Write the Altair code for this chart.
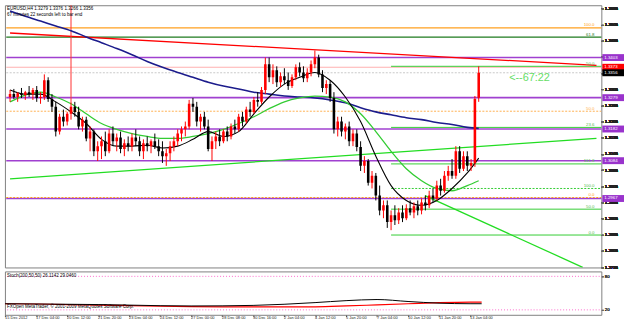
import altair as alt
import pandas as pd

FONT = "Liberation Sans"

header_line1 = "EURUSD,H4  1.3279 1.3376 1.3266 1.3356"
header_line2 = "67 minutes 22 seconds left to bar end"
countdown_text = "<--67:22"
stoch_title = "Stoch(200,50,50) 26.1142 29.0460"
copyright_text = "FXOpen MetaTrader, \u00a9 2001-2009 MetaQuotes Software Corp."

opens = [1.3281,1.3290,1.3281,1.3293,1.3287,1.3296,1.3290,1.3303,1.3278,1.3281,
         1.3333,1.3275,1.3251,1.3174,1.3220,1.3205,1.3229,1.3251,1.3235,1.3190,
         1.3211,1.3153,1.3174,1.3113,1.3129,1.3144,1.3113,1.3168,1.3144,1.3156,
         1.3120,1.3138,1.3129,1.3156,1.3144,1.3113,1.3138,1.3129,1.3144,1.3129,
         1.3113,1.3098,1.3107,1.3129,1.3144,1.3168,1.3181,1.3190,1.3260,1.3251,
         1.3205,1.3220,1.3190,1.3120,1.3144,1.3159,1.3144,1.3174,1.3159,1.3190,
         1.3181,1.3220,1.3205,1.3242,1.3235,1.3272,1.3266,1.3303,1.3382,1.3342,
         1.3364,1.3327,1.3345,1.3333,1.3315,1.3342,1.3373,1.3357,1.3339,1.3357,
         1.3382,1.3403,1.3351,1.3309,1.3321,1.3278,1.3181,1.3205,1.3174,1.3190,
         1.3144,1.3168,1.3126,1.3068,1.3083,1.3016,1.3037,1.2976,1.2930,1.2946,
         1.2894,1.2915,1.2900,1.2924,1.2906,1.2937,1.2924,1.2943,1.2930,1.2955,
         1.2946,1.2976,1.2967,1.3007,1.2991,1.3037,1.3052,1.3037,1.3113,1.3059,
         1.3098,1.3068,1.3077,1.3279]
highs = [1.3303,1.3306,1.3296,1.3309,1.3300,1.3315,1.3309,1.3315,1.3296,1.3351,
         1.3342,1.3290,1.3266,1.3229,1.3242,1.3235,1.3266,1.3266,1.3251,1.3220,
         1.3220,1.3190,1.3181,1.3144,1.3159,1.3174,1.3181,1.3190,1.3168,1.3174,
         1.3150,1.3159,1.3168,1.3181,1.3159,1.3150,1.3159,1.3150,1.3168,1.3150,
         1.3144,1.3120,1.3144,1.3159,1.3181,1.3190,1.3205,1.3272,1.3278,1.3266,
         1.3229,1.3235,1.3211,1.3159,1.3174,1.3181,1.3181,1.3190,1.3199,1.3211,
         1.3229,1.3235,1.3251,1.3266,1.3281,1.3296,1.3312,1.3403,1.3403,1.3382,
         1.3376,1.3357,1.3370,1.3357,1.3351,1.3382,1.3388,1.3376,1.3370,1.3394,
         1.3425,1.3412,1.3364,1.3333,1.3333,1.3296,1.3220,1.3220,1.3199,1.3205,
         1.3181,1.3181,1.3144,1.3098,1.3089,1.3052,1.3046,1.3007,1.2961,1.2961,
         1.2930,1.2946,1.2937,1.2946,1.2949,1.2961,1.2955,1.2961,1.2967,1.2976,
         1.2991,1.2998,1.3022,1.3028,1.3052,1.3068,1.3089,1.3129,1.3129,1.3113,
         1.3113,1.3089,1.3284,1.3376]
lows = [1.3266,1.3275,1.3266,1.3278,1.3272,1.3281,1.3272,1.3266,1.3260,1.3272,
        1.3266,1.3235,1.3159,1.3165,1.3190,1.3193,1.3211,1.3220,1.3181,1.3174,
        1.3144,1.3113,1.3098,1.3083,1.3089,1.3098,1.3107,1.3129,1.3113,1.3107,
        1.3098,1.3113,1.3113,1.3129,1.3098,1.3089,1.3113,1.3107,1.3120,1.3098,
        1.3077,1.3068,1.3083,1.3113,1.3129,1.3144,1.3159,1.3181,1.3235,1.3190,
        1.3174,1.3181,1.3113,1.3083,1.3120,1.3129,1.3138,1.3144,1.3150,1.3168,
        1.3174,1.3190,1.3199,1.3220,1.3229,1.3251,1.3260,1.3290,1.3327,1.3321,
        1.3312,1.3312,1.3321,1.3303,1.3309,1.3333,1.3345,1.3327,1.3327,1.3345,
        1.3370,1.3342,1.3296,1.3290,1.3266,1.3168,1.3159,1.3159,1.3150,1.3129,
        1.3129,1.3113,1.3052,1.3046,1.3007,1.2998,1.2961,1.2915,1.2906,1.2876,
        1.2869,1.2885,1.2888,1.2894,1.2900,1.2915,1.2906,1.2915,1.2918,1.2930,
        1.2937,1.2955,1.2961,1.2976,1.2985,1.3022,1.3028,1.3028,1.3046,1.3052,
        1.3052,1.3052,1.3065,1.3266]
closes = [1.3290,1.3281,1.3293,1.3287,1.3296,1.3290,1.3303,1.3278,1.3281,1.3333,
          1.3275,1.3251,1.3174,1.3220,1.3205,1.3229,1.3251,1.3235,1.3190,1.3211,
          1.3153,1.3174,1.3113,1.3129,1.3144,1.3113,1.3168,1.3144,1.3156,1.3120,
          1.3138,1.3129,1.3156,1.3144,1.3113,1.3138,1.3129,1.3144,1.3129,1.3113,
          1.3098,1.3107,1.3129,1.3144,1.3168,1.3181,1.3190,1.3260,1.3251,1.3205,
          1.3220,1.3190,1.3120,1.3144,1.3159,1.3144,1.3174,1.3159,1.3190,1.3181,
          1.3220,1.3205,1.3242,1.3235,1.3272,1.3266,1.3303,1.3382,1.3342,1.3364,
          1.3327,1.3345,1.3333,1.3315,1.3342,1.3373,1.3357,1.3339,1.3357,1.3382,
          1.3403,1.3351,1.3309,1.3321,1.3278,1.3181,1.3205,1.3174,1.3190,1.3144,
          1.3168,1.3126,1.3068,1.3083,1.3016,1.3037,1.2976,1.2930,1.2946,1.2894,
          1.2915,1.2900,1.2924,1.2906,1.2937,1.2924,1.2943,1.2930,1.2955,1.2946,
          1.2976,1.2967,1.3007,1.2991,1.3037,1.3052,1.3037,1.3113,1.3059,1.3098,
          1.3068,1.3077,1.3275,1.3356]

ma_bars = [0,4,8,12,16,20,24,28,32,36,40,44,48,52,56,60,64,68,72,76,80,84,88,92,96,100,104,108,112,116,120,123]
ma_blue = [1.3547,1.3531,1.3516,1.3501,1.3486,1.3467,1.3449,1.3431,1.3412,1.3391,1.3373,1.3357,
           1.3342,1.3327,1.3315,1.3306,1.3296,1.3290,1.3284,1.3281,1.3278,1.3272,1.3263,1.3248,
           1.3235,1.3226,1.3217,1.3211,1.3202,1.3196,1.3187,1.3184]
ma_green = [1.3266,1.3287,1.3296,1.3281,1.3260,1.3229,1.3199,1.3181,1.3168,1.3159,1.3153,1.3153,
            1.3159,1.3168,1.3181,1.3199,1.3220,1.3245,1.3266,1.3278,1.3284,1.3281,1.3266,1.3229,
            1.3174,1.3113,1.3059,1.3022,1.2998,1.2991,1.3007,1.3022]
ma_black = [1.3303,1.3290,1.3290,1.3266,1.3235,1.3199,1.3150,1.3129,1.3129,1.3132,1.3123,1.3129,
            1.3150,1.3174,1.3159,1.3174,1.3229,1.3281,1.3321,1.3342,1.3357,1.3333,1.3281,1.3205,
            1.3098,1.3007,1.2961,1.2946,1.2961,1.2998,1.3046,1.3092]

stoch_bars = [0,8,16,24,32,40,48,56,64,72,80,88,96,104,112,120,123]
stoch_main = [31,30.5,30,29.5,28.5,27.5,27,27.2,28,30,33,36.5,38.5,35,32,31,31]
stoch_signal = [31,30.5,29.5,28.5,27.5,26.5,25.8,25.3,25.3,25.3,25.5,27,29,31,33,34,34]
stoch_levels = [80, 20]

time_bars = [0,8,16,24,32,40,48,56,64,72,80,88,96,104,112,120]
time_labels = ["15 Dec 2012","17 Dec 04:00","20 Dec 12:00","21 Dec 20:00","23 Dec 04:00",
               "24 Dec 12:00","27 Dec 00:00","28 Dec 08:00","30 Dec 16:00","2 Jan 04:00",
               "4 Jan 12:00","5 Jan 20:00","7 Jan 04:00","10 Jan 12:00","11 Jan 20:00","13 Jan 04:00"]

price_ticks = [1.2755,1.2805,1.2855,1.2905,1.2955,1.3005,1.3055,1.3105,1.3155,
               1.3205,1.3255,1.3305,1.3355,1.3405,1.3455,1.3505,1.3555]

purple_levels = [1.3403, 1.3279, 1.3182, 1.3084, 1.2967]

wide_prices = [1.3495, 1.3466, 1.3373]
wide_colors = ["#FFA020", "#1E7B1E", "#FFB0B0"]
wide_labels = ["100.0", "61.8", ""]
dotted_prices = [1.3237, 1.2970, 1.3356]
dotted_colors = ["#FFB050", "#FFA020", "#C8C8C8"]
dotted_labels = ["50.0", "0.0", ""]
gfib_start = 100
gfib_prices = [1.3376, 1.3187, 1.3074, 1.2998, 1.2934, 1.2854]
gfib_labels = ["50.0", "23.6", "161.8", "100.0", "50.0", "0.0"]
gfib_dash = [0, 0, 0, 1, 0, 0]

tl_names = ["red", "green_up", "green_down"]
tl_x1 = [0, 0, 108.9]
tl_p1 = [1.3479, 1.3028, 1.2976]
tl_x2 = [153.9, 153.9, 150.3]
tl_p2 = [1.3379, 1.3153, 1.2754]
tl_colors = ["#FF0000", "#22DD22", "#22DD22"]

vline_bar = 16
vline_top = 1.3566
vline_bottom = 1.3266

countdown_bar = 131
countdown_price = 1.3339

box_prices = purple_levels + [1.3373, 1.3356]
box_colors = ["#9933CC"] * 5 + ["#FF0000", "#000000"]
box_texts = ["%.4f" % p for p in box_prices]

# ---------------------------------------------------------------
W = 605
H_MAIN = 266
H_STOCH = 44
xs = alt.Scale(domain=[-0.05, 153.89], nice=False, zero=False)
ps = alt.Scale(domain=[1.27536, 1.35649], nice=False, zero=False)
p_axis = alt.Axis(orient="right", values=price_ticks, format=".4f", labelFontSize=4.4,
                  labelFont=FONT, tickSize=2, labelPadding=1, grid=False, title=None,
                  domain=False, tickColor="#666666", labelColor="#222222",
                  labelOverlap=False, labelFlush=False)

def X(field="bar"):
    return alt.X(f"{field}:Q", scale=xs, axis=None)

def Y(field):
    return alt.Y(f"{field}:Q", scale=ps, axis=p_axis)

candles = pd.DataFrame({"bar": list(range(len(closes))), "open": opens, "high": highs,
                        "low": lows, "close": closes})
candles["col"] = ["#FF0000" if c >= o else "#000000" for o, c in zip(opens, closes)]

wicks = alt.Chart(candles).mark_rule(strokeWidth=1, clip=True).encode(
    x=X(), y=Y("low"), y2="high", color=alt.Color("col:N", scale=None))
bodies = alt.Chart(candles).mark_bar(size=2.6, clip=True).encode(
    x=X(), y=Y("open"), y2="close", color=alt.Color("col:N", scale=None))

ma = pd.DataFrame({"bar": ma_bars, "blue": ma_blue, "green": ma_green, "black": ma_black})
ma_blue_l = alt.Chart(ma).mark_line(color="#1C1C8C", strokeWidth=1.6, interpolate="monotone", clip=True).encode(x=X(), y=Y("blue"))
ma_green_l = alt.Chart(ma).mark_line(color="#33CC33", strokeWidth=1.3, interpolate="monotone", clip=True).encode(x=X(), y=Y("green"))
ma_black_l = alt.Chart(ma).mark_line(color="#000000", strokeWidth=1.1, interpolate="monotone", clip=True).encode(x=X(), y=Y("black"))

lv_df = pd.DataFrame({"price": purple_levels, "x1": [-1] * 5, "x2": [160] * 5})
purple = alt.Chart(lv_df).mark_rule(color="#A040D0", strokeWidth=1.6, clip=True).encode(
    x=X("x1"), x2="x2", y=Y("price"))

wide_df = pd.DataFrame({"price": wide_prices, "col": wide_colors, "lab": wide_labels,
                        "x1": [-1] * 3, "x2": [160] * 3, "xl": [153.4] * 3})
wide = alt.Chart(wide_df).mark_rule(strokeWidth=1.2, clip=True).encode(
    x=X("x1"), x2="x2", y=Y("price"), color=alt.Color("col:N", scale=None))
wide_t = alt.Chart(wide_df).mark_text(align="right", baseline="bottom", dy=-0.5, fontSize=4.4, font=FONT).encode(
    x=X("xl"), y=Y("price"), text="lab:N", color=alt.Color("col:N", scale=None))

dot_df = pd.DataFrame({"price": dotted_prices, "col": dotted_colors, "lab": dotted_labels,
                       "x1": [-1] * 3, "x2": [160] * 3, "xl": [153.4] * 3})
dots = alt.Chart(dot_df).mark_rule(strokeWidth=1, strokeDash=[2, 1.5], clip=True).encode(
    x=X("x1"), x2="x2", y=Y("price"), color=alt.Color("col:N", scale=None))
dots_t = alt.Chart(dot_df).mark_text(align="right", baseline="bottom", dy=-0.5, fontSize=4.4, font=FONT).encode(
    x=X("xl"), y=Y("price"), text="lab:N", color=alt.Color("col:N", scale=None))

g_df = pd.DataFrame({"price": gfib_prices, "lab": gfib_labels, "dash": gfib_dash,
                     "x1": [gfib_start] * 6, "x2": [160] * 6, "xl": [153.4] * 6})
gfib_solid = alt.Chart(g_df[g_df.dash == 0]).mark_rule(color="#33CC33", strokeWidth=1, clip=True).encode(
    x=X("x1"), x2="x2", y=Y("price"))
gfib_dot = alt.Chart(g_df[g_df.dash == 1]).mark_rule(color="#33CC33", strokeWidth=1, strokeDash=[2, 1.5], clip=True).encode(
    x=X("x1"), x2="x2", y=Y("price"))
gfib_t = alt.Chart(g_df).mark_text(align="right", baseline="bottom", dy=-0.5, fontSize=4.4, font=FONT, color="#55BB55").encode(
    x=X("xl"), y=Y("price"), text="lab:N")

tl_df = pd.DataFrame({"name": tl_names, "x1": tl_x1, "p1": tl_p1, "x2": tl_x2, "p2": tl_p2, "col": tl_colors})
trend = alt.Chart(tl_df).mark_rule(strokeWidth=1.3, clip=True).encode(
    x=X("x1"), x2="x2", y=Y("p1"), y2="p2", color=alt.Color("col:N", scale=None))

vl_df = pd.DataFrame({"bar": [vline_bar], "top": [vline_top], "bottom": [vline_bottom]})
vline = alt.Chart(vl_df).mark_rule(color="#FF3030", strokeWidth=1, clip=True).encode(
    x=X(), y=Y("bottom"), y2="top")

cd_df = pd.DataFrame({"bar": [countdown_bar], "price": [countdown_price], "t": [countdown_text]})
cd = alt.Chart(cd_df).mark_text(align="left", baseline="middle", fontSize=11, font=FONT, color="#66DD66").encode(
    x=X(), y=Y("price"), text="t:N")

box_df = pd.DataFrame({"price": box_prices, "col": box_colors, "t": box_texts})
boxes = alt.Chart(box_df).mark_tick(orient="horizontal", size=22, thickness=7, clip=False, opacity=1).encode(
    x=alt.value(617), y=Y("price"), color=alt.Color("col:N", scale=None))
boxes_t = alt.Chart(box_df).mark_text(align="left", baseline="middle", fontSize=4.4, font=FONT, color="white", clip=False).encode(
    x=alt.value(608), y=Y("price"), text="t:N")

hdr_df = pd.DataFrame({"t": [header_line1, header_line2], "row": [0, 1]})
hdr = alt.Chart(hdr_df).mark_text(align="left", baseline="middle", fontSize=4.6, font=FONT, color="#000000").encode(
    x=alt.value(2), y=alt.Y("row:O", scale=alt.Scale(range=[4, 9.5], padding=0), axis=None), text="t:N")

main = alt.layer(purple, wide, dots, gfib_solid, gfib_dot, trend, vline,
                 ma_blue_l, ma_green_l, ma_black_l, wicks, bodies,
                 wide_t, dots_t, gfib_t, cd, boxes, boxes_t, hdr).resolve_scale(y="shared").properties(
    width=W, height=H_MAIN)

# ---------------- stochastic pane ----------------
ss = alt.Scale(domain=[11.18, 88.82], nice=False, zero=False)
s_axis = alt.Axis(orient="right", values=stoch_levels, format="d", labelFontSize=4.4, labelFont=FONT,
                  tickSize=2, labelPadding=1, grid=False, title=None, domain=False,
                  tickColor="#666666", labelColor="#222222")
x_axis = alt.Axis(values=time_bars, labels=False, ticks=True, tickSize=2, domain=False,
                  grid=False, title=None, tickColor="#666666")

st = pd.DataFrame({"bar": stoch_bars, "main": stoch_main, "signal": stoch_signal})
s_main = alt.Chart(st).mark_line(color="#000000", strokeWidth=1, interpolate="monotone").encode(
    x=alt.X("bar:Q", scale=xs, axis=x_axis), y=alt.Y("main:Q", scale=ss, axis=s_axis))
s_sig = alt.Chart(st).mark_line(color="#FF0000", strokeWidth=1.2, interpolate="monotone").encode(
    x=alt.X("bar:Q", scale=xs, axis=x_axis), y=alt.Y("signal:Q", scale=ss, axis=s_axis))
lev_df = pd.DataFrame({"v": stoch_levels, "x1": [-1, -1], "x2": [160, 160]})
s_lev = alt.Chart(lev_df).mark_rule(color="#FF66CC", strokeWidth=1, strokeDash=[1, 2], clip=True).encode(
    x=alt.X("x1:Q", scale=xs, axis=x_axis), x2="x2", y=alt.Y("v:Q", scale=ss, axis=s_axis))

st_txt = pd.DataFrame({"t": [stoch_title, copyright_text], "row": [0, 1]})
s_txt = alt.Chart(st_txt).mark_text(align="left", baseline="middle", fontSize=4.6, font=FONT, color="#000000").encode(
    x=alt.value(2), y=alt.Y("row:O", scale=alt.Scale(range=[4.5, 36], padding=0), axis=None), text="t:N")

tl = pd.DataFrame({"bar": time_bars, "t": time_labels})
t_txt = alt.Chart(tl).mark_text(align="left", baseline="middle", fontSize=4.0, font=FONT, color="#222222", clip=False).encode(
    x=alt.X("bar:Q", scale=xs, axis=x_axis), y=alt.value(H_STOCH + 3.5), text="t:N")

stoch = alt.layer(s_lev, s_sig, s_main, s_txt, t_txt).resolve_scale(y="independent").properties(
    width=W, height=H_STOCH)

chart = alt.vconcat(main, stoch, spacing=1).properties(
    padding={"left": 2, "top": 2, "right": 0, "bottom": 0},
    background="#FFFFFF",
).configure_view(stroke="#808080", strokeWidth=1).configure_concat(spacing=1)

chart.save("out.html", embed_options={"renderer": "svg", "actions": False})
